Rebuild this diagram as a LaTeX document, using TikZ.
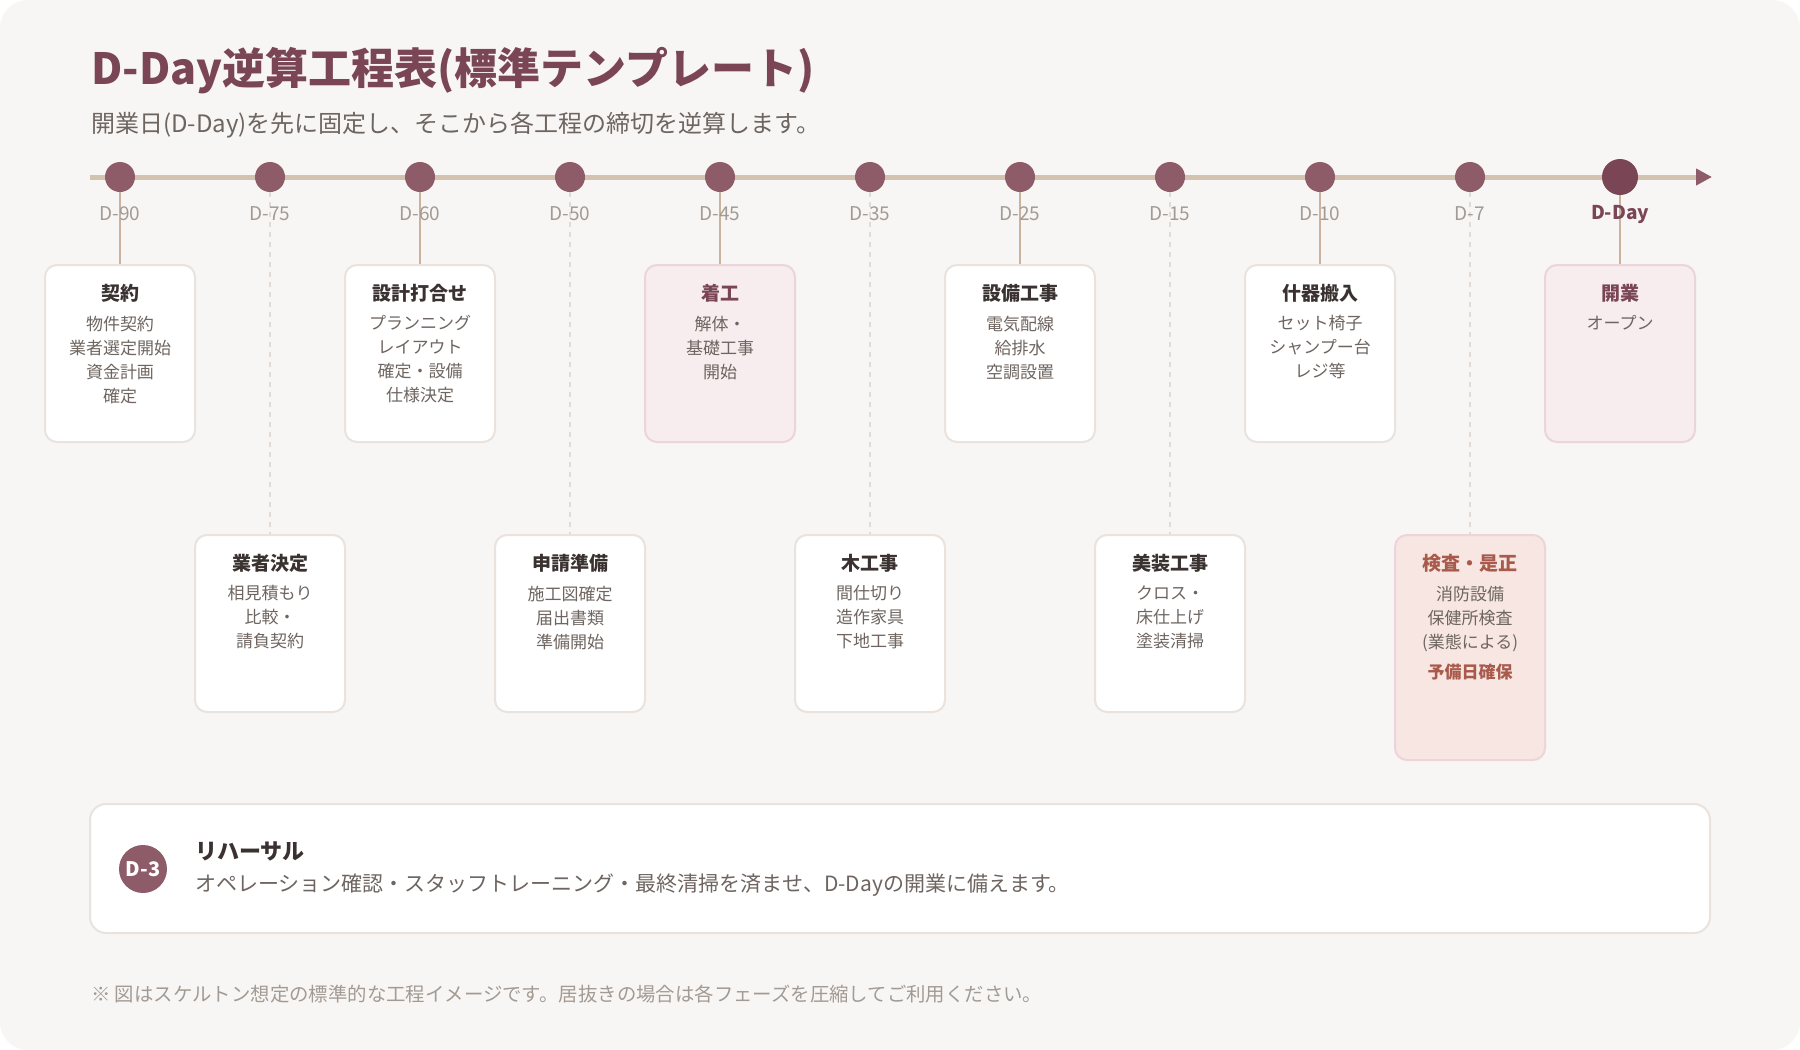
\documentclass[tikz,border=0pt]{standalone}
\usepackage{fontspec}
\usepackage{xcolor}
\usepackage{tikz}
\setmainfont{Noto Sans CJK JP}
\usetikzlibrary{arrows.meta, positioning, calc, backgrounds}
\definecolor{cardbg}{HTML}{F8F6F4}
\definecolor{mauve}{HTML}{8E5B68}
\definecolor{mauvedk}{HTML}{7A4656}
\definecolor{tanline}{HTML}{D4C2B0}
\definecolor{stemcol}{HTML}{C9B39F}
\definecolor{dashcol}{HTML}{E2DAD4}
\definecolor{rimcol}{HTML}{EAE2DC}
\definecolor{pinkbg}{HTML}{F7ECEE}
\definecolor{pinkrim}{HTML}{EBD5DA}
\definecolor{warnbg}{HTML}{F7E6E1}
\definecolor{warntxt}{HTML}{A85A4C}
\definecolor{inktxt}{HTML}{3A3230}
\definecolor{softtxt}{HTML}{6E6560}
\definecolor{faint}{HTML}{A39A93}

\begin{document}
\begin{tikzpicture}[x=1pt, y=-1pt,
    dotnode/.style={circle, fill=mauve, minimum size=30pt, inner sep=0pt},
    daydot/.style={dotnode, fill=mauvedk, minimum size=36pt},
    daylbl/.style={font=\fontsize{19}{22}\selectfont, text=faint, inner sep=0pt},
    card/.style={rectangle, rounded corners=12pt, draw=rimcol, line width=2pt,
      fill=white, minimum width=150pt, minimum height=177pt, anchor=north},
    hicard/.style={card, fill=pinkbg, draw=pinkrim},
    warncard/.style={card, fill=warnbg, draw=pinkrim, minimum height=225pt},
    ttl/.style={font=\fontsize{19}{24}\selectfont\bfseries, text=inktxt, inner sep=0pt},
    desc/.style={font=\fontsize{17}{24}\selectfont, text=softtxt, align=center,
      inner sep=0pt, anchor=north},
    stem/.style={stemcol, line width=2pt},
    dashstem/.style={dashcol, line width=1.6pt, dash pattern=on 5pt off 5pt},
  ]
    \useasboundingbox (0,0) rectangle (1800,1050);

    % Heading
    \node[anchor=west, inner sep=0pt, text=mauvedk,
      font=\fontsize{43}{50}\selectfont\bfseries] (title) at (91,71)
      {D-Day逆算工程表(標準テンプレート)};
    \node[anchor=west, inner sep=0pt, text=softtxt,
      font=\fontsize{24}{28}\selectfont] (sub) at (91,125)
      {開業日(D-Day)を先に固定し、そこから各工程の締切を逆算します。};

    % Timeline dots
    \node[dotnode] (d90)  at (120,177)  {};
    \node[dotnode] (d75)  at (270,177)  {};
    \node[dotnode] (d60)  at (420,177)  {};
    \node[dotnode] (d50)  at (570,177)  {};
    \node[dotnode] (d45)  at (720,177)  {};
    \node[dotnode] (d35)  at (870,177)  {};
    \node[dotnode] (d25)  at (1020,177) {};
    \node[dotnode] (d15)  at (1170,177) {};
    \node[dotnode] (d10)  at (1320,177) {};
    \node[dotnode] (d7)   at (1470,177) {};
    \node[daydot]  (dday) at (1620,177) {};
    \coordinate (tstart) at (90,177);
    \coordinate (tend)   at (1712,177);

    % Day labels
    \node[daylbl] (l90)  at (120,214)  {D-90};
    \node[daylbl] (l75)  at (270,214)  {D-75};
    \node[daylbl] (l60)  at (420,214)  {D-60};
    \node[daylbl] (l50)  at (570,214)  {D-50};
    \node[daylbl] (l45)  at (720,214)  {D-45};
    \node[daylbl] (l35)  at (870,214)  {D-35};
    \node[daylbl] (l25)  at (1020,214) {D-25};
    \node[daylbl] (l15)  at (1170,214) {D-15};
    \node[daylbl] (l10)  at (1320,214) {D-10};
    \node[daylbl] (l7)   at (1470,214) {D-7};
    \node[daylbl, text=mauvedk, font=\fontsize{19}{22}\selectfont\bfseries]
      (lday) at (1620,214) {D-Day};

    % Row 1: upper cards
    \node[card]   (k90)  at (120,264)  {};
    \node[card]   (k60)  at (420,264)  {};
    \node[hicard] (k45)  at (720,264)  {};
    \node[card]   (k25)  at (1020,264) {};
    \node[card]   (k10)  at (1320,264) {};
    \node[hicard] (kday) at (1620,264) {};

    \node[ttl] (t90)  at ([yshift=-29]k90.north)  {契約};
    \node[ttl] (t60)  at ([yshift=-29]k60.north)  {設計打合せ};
    \node[ttl, text=mauvedk] (t45) at ([yshift=-29]k45.north) {着工};
    \node[ttl] (t25)  at ([yshift=-29]k25.north)  {設備工事};
    \node[ttl] (t10)  at ([yshift=-29]k10.north)  {什器搬入};
    \node[ttl, text=mauvedk] (tday) at ([yshift=-29]kday.north) {開業};

    \node[desc] (b90)  at ([yshift=-22.5]t90)  {物件契約\\業者選定開始\\資金計画\\確定};
    \node[desc] (b60)  at ([yshift=-22.5]t60)  {プランニング\\レイアウト\\確定・設備\\仕様決定};
    \node[desc] (b45)  at ([yshift=-22.5]t45)  {解体・\\基礎工事\\開始};
    \node[desc] (b25)  at ([yshift=-22.5]t25)  {電気配線\\給排水\\空調設置};
    \node[desc] (b10)  at ([yshift=-22.5]t10)  {セット椅子\\シャンプー台\\レジ等};
    \node[desc] (bday) at ([yshift=-22.5]tday) {オープン};

    % Row 2: lower cards
    \node[card]     (k75) at (270,534)  {};
    \node[card]     (k50) at (570,534)  {};
    \node[card]     (k35) at (870,534)  {};
    \node[card]     (k15) at (1170,534) {};
    \node[warncard] (k7)  at (1470,534) {};

    \node[ttl] (t75) at ([yshift=-29]k75.north) {業者決定};
    \node[ttl] (t50) at ([yshift=-29]k50.north) {申請準備};
    \node[ttl] (t35) at ([yshift=-29]k35.north) {木工事};
    \node[ttl] (t15) at ([yshift=-29]k15.north) {美装工事};
    \node[ttl, text=warntxt] (t7) at ([yshift=-29]k7.north) {検査・是正};

    \node[desc] (b75) at ([yshift=-22.5]t75) {相見積もり\\比較・\\請負契約};
    \node[desc] (b50) at ([yshift=-22.5]t50) {施工図確定\\届出書類\\準備開始};
    \node[desc] (b35) at ([yshift=-22.5]t35) {間仕切り\\造作家具\\下地工事};
    \node[desc] (b15) at ([yshift=-22.5]t15) {クロス・\\床仕上げ\\塗装清掃};
    \node[desc] (b7)  at ([yshift=-22.5]t7)  {消防設備\\保健所検査\\(業態による)\\[6pt]{\bfseries\color{warntxt}予備日確保}};

    % Rehearsal strip
    \node[card, anchor=center, rounded corners=16pt, minimum width=1620pt,
      minimum height=129pt] (reh) at (900,868.5) {};
    \node[circle, fill=mauve, minimum size=48pt, inner sep=0pt, text=white,
      font=\fontsize{20}{24}\selectfont\bfseries] (d3) at (143,869) {D-3};
    \node[ttl, anchor=west, font=\fontsize{22}{26}\selectfont\bfseries]
      (rehttl) at (195,851) {リハーサル};
    \node[anchor=west, inner sep=0pt, text=softtxt,
      font=\fontsize{21}{24}\selectfont] (rehtxt) at (195,885)
      {オペレーション確認・スタッフトレーニング・最終清掃を済ませ、D-Dayの開業に備えます。};

    % Footnote
    \node[anchor=west, inner sep=0pt, text=faint,
      font=\fontsize{19.4}{22}\selectfont] (note) at (91,994)
      {※ 図はスケルトン想定の標準的な工程イメージです。居抜きの場合は各フェーズを圧縮してご利用ください。};

    \begin{scope}[on background layer]
      \fill[white] (0,0) rectangle (1800,1050);
      \fill[cardbg, rounded corners=28pt] (0,0) rectangle (1800,1050);
      \draw[tanline, line width=5pt,
        -{Triangle[length=16pt, width=16pt, color=mauve]}] (tstart) -- (tend);
      \draw[stem] (d90)  -- (k90.north);
      \draw[stem] (d60)  -- (k60.north);
      \draw[stem] (d45)  -- (k45.north);
      \draw[stem] (d25)  -- (k25.north);
      \draw[stem] (d10)  -- (k10.north);
      \draw[stem] (dday) -- (kday.north);
      \draw[dashstem] (d75.south) -- (k75.north);
      \draw[dashstem] (d50.south) -- (k50.north);
      \draw[dashstem] (d35.south) -- (k35.north);
      \draw[dashstem] (d15.south) -- (k15.north);
      \draw[dashstem] (d7.south)  -- (k7.north);
    \end{scope}
  \end{tikzpicture}
\end{document}
